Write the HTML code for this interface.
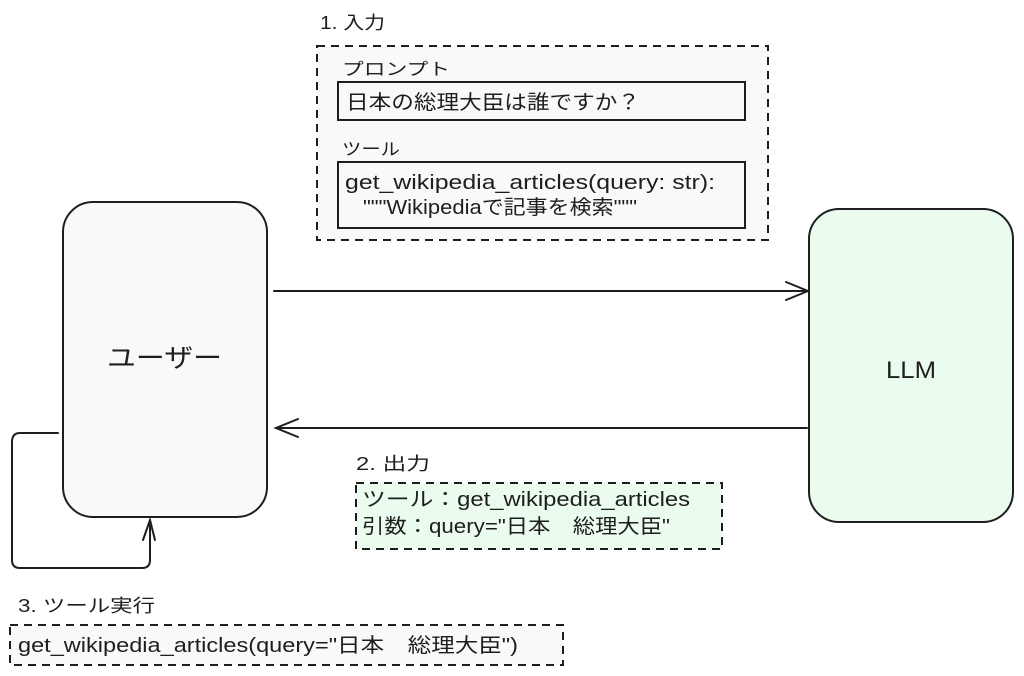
<!DOCTYPE html>
<html><head><meta charset="utf-8"><style>
html,body{margin:0;padding:0;background:#fff;}
svg{display:block;}
text{font-family:"Liberation Sans","Noto Sans CJK JP",sans-serif;fill:#1e1e1e;}
</style></head><body>
<svg width="1024" height="676" viewBox="0 0 1024 676" xmlns="http://www.w3.org/2000/svg">
<text x="320" y="29" font-size="18" textLength="65" lengthAdjust="spacingAndGlyphs">1. 入力</text>
<rect x="317" y="46" width="451" height="194" fill="#f8f9fa" stroke="#1e1e1e" stroke-width="2" stroke-dasharray="8 6"/>
<text x="342" y="75" font-size="17" textLength="108" lengthAdjust="spacingAndGlyphs">プロンプト</text>
<rect x="338" y="82" width="407" height="38" fill="#f8f9fa" stroke="#1e1e1e" stroke-width="2"/>
<text x="346" y="109" font-size="20" textLength="294" lengthAdjust="spacingAndGlyphs">日本の総理大臣は誰ですか？</text>
<text x="342" y="155" font-size="17" textLength="58" lengthAdjust="spacingAndGlyphs">ツール</text>
<rect x="338" y="162" width="407" height="66" fill="#f8f9fa" stroke="#1e1e1e" stroke-width="2"/>
<text x="345" y="189" font-size="20" textLength="370" lengthAdjust="spacingAndGlyphs">get_wikipedia_articles(query: str):</text>
<text x="363" y="214" font-size="20" textLength="274" lengthAdjust="spacingAndGlyphs">"""Wikipediaで記事を検索"""</text>

<rect x="63" y="202" width="204" height="315" rx="30" fill="#f8f9fa" stroke="#1e1e1e" stroke-width="2"/>
<text x="107" y="367" font-size="26" textLength="115" lengthAdjust="spacingAndGlyphs">ユーザー</text>
<rect x="809" y="209" width="204" height="313" rx="30" fill="#ebfbee" stroke="#1e1e1e" stroke-width="2"/>
<text x="886" y="378" font-size="24" textLength="50" lengthAdjust="spacingAndGlyphs">LLM</text>

<g stroke="#1e1e1e" stroke-width="2" fill="none" stroke-linecap="round">
<path d="M274 291 L808 291"/><path d="M786 282 L808 291 L786 300"/>
<path d="M807 428 L276 428"/><path d="M298 419 L276 428 L298 437"/>
<path d="M58 433 L20 433 Q12 433 12 442 L12 560 Q12 568 20 568 L142 568 Q150 568 150 560 L150 522"/>
<path d="M143 540 L150 520 L155 540"/>
</g>

<text x="356" y="470" font-size="18" textLength="74" lengthAdjust="spacingAndGlyphs">2. 出力</text>
<rect x="356" y="483" width="366" height="66" fill="#ebfbee" stroke="#1e1e1e" stroke-width="2" stroke-dasharray="8 6"/>
<text x="362" y="506" font-size="20" textLength="328" lengthAdjust="spacingAndGlyphs">ツール：get_wikipedia_articles</text>
<text x="362" y="533" font-size="20" textLength="308" lengthAdjust="spacingAndGlyphs">引数：query="日本　総理大臣"</text>

<text x="18" y="612" font-size="18" textLength="137" lengthAdjust="spacingAndGlyphs">3. ツール実行</text>
<rect x="10" y="625" width="553" height="40" fill="#f8f9fa" stroke="#1e1e1e" stroke-width="2" stroke-dasharray="8 6"/>
<text x="18" y="652" font-size="20" textLength="500" lengthAdjust="spacingAndGlyphs">get_wikipedia_articles(query="日本　総理大臣")</text>
</svg>
</body></html>
